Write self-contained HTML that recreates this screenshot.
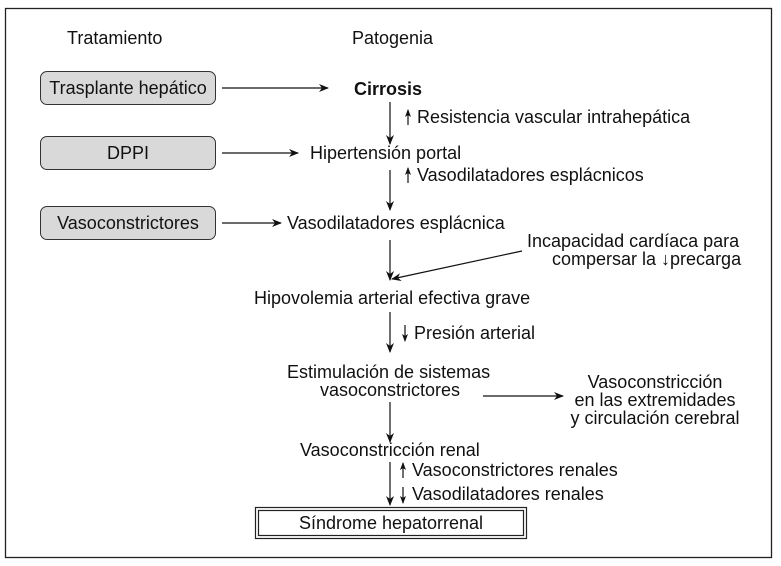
<!DOCTYPE html>
<html><head><meta charset="utf-8"><style>
body{margin:0;width:781px;height:566px;background:#fff;position:relative;overflow:hidden;font-family:"Liberation Sans",Arial,sans-serif;color:#111}
.t{position:absolute;font-size:18px;line-height:18px;white-space:nowrap}
.b{position:absolute;left:40px;width:174px;height:32px;border:1.3px solid #333;border-radius:7px;background:#d9d9d9;font-size:18px;line-height:32px;text-align:center}
svg{position:absolute;left:0;top:0}
</style></head><body>
<svg width="781" height="566">
<defs><marker id="a" markerWidth="10" markerHeight="8" refX="9" refY="4" orient="auto" markerUnits="userSpaceOnUse"><path d="M0,0 L10,4 L0,8 L3,4z" fill="#111"/></marker>
<marker id="s" markerWidth="8" markerHeight="6" refX="7" refY="3" orient="auto" markerUnits="userSpaceOnUse"><path d="M0,0 L8,3 L0,6 L2,3z" fill="#111"/></marker></defs>
<rect x="5.5" y="8.5" width="766" height="549" fill="none" stroke="#222" stroke-width="1.3"/>
<g stroke="#111" stroke-width="1.2" fill="none" marker-end="url(#a)">
<line x1="222" y1="88" x2="328" y2="88"/>
<line x1="222" y1="153" x2="298" y2="153"/>
<line x1="222" y1="223" x2="281" y2="223"/>
<line x1="390" y1="102" x2="390" y2="144"/>
<line x1="390" y1="170" x2="390" y2="210"/>
<line x1="390" y1="240" x2="390" y2="280"/>
<line x1="522" y1="251" x2="392" y2="279"/>
<line x1="390" y1="312" x2="390" y2="352"/>
<line x1="390" y1="402" x2="390" y2="442"/>
<line x1="483" y1="396" x2="563" y2="396"/>
<line x1="390" y1="462" x2="390" y2="505"/>
</g>
<g stroke="#111" stroke-width="1.2" fill="none" marker-end="url(#s)">
<line x1="408" y1="125" x2="408" y2="110"/>
<line x1="408" y1="183" x2="408" y2="168"/>
<line x1="405" y1="325" x2="405" y2="341"/>
<line x1="403" y1="478" x2="403" y2="463"/>
<line x1="403" y1="487" x2="403" y2="503"/>
</g>
<rect x="255.5" y="507.5" width="271" height="31" fill="none" stroke="#222" stroke-width="1.2"/>
<rect x="258.5" y="510.5" width="265" height="25" fill="none" stroke="#222" stroke-width="1.2"/>
</svg>
<div class="t" style="left:67px;top:29px">Tratamiento</div>
<div class="t" style="left:352px;top:29px">Patogenia</div>
<div class="b" style="top:71px">Trasplante hepático</div>
<div class="b" style="top:136px">DPPI</div>
<div class="b" style="top:206px">Vasoconstrictores</div>
<div class="t" style="left:354px;top:80px;font-weight:bold">Cirrosis</div>
<div class="t" style="left:417px;top:108px">Resistencia vascular intrahepática</div>
<div class="t" style="left:310px;top:144px">Hipertensión portal</div>
<div class="t" style="left:417px;top:166px">Vasodilatadores esplácnicos</div>
<div class="t" style="left:287px;top:214px">Vasodilatadores esplácnica</div>
<div class="t" style="left:527px;top:232px">Incapacidad cardíaca para</div>
<div class="t" style="left:552px;top:250px">compersar la ↓precarga</div>
<div class="t" style="left:254px;top:289px">Hipovolemia arterial efectiva grave</div>
<div class="t" style="left:414px;top:324px">Presión arterial</div>
<div class="t" style="left:287px;top:363px">Estimulación de sistemas</div>
<div class="t" style="left:320px;top:381px">vasoconstrictores</div>
<div class="t" style="left:560px;top:373px;width:190px;text-align:center">Vasoconstricción<br>en las extremidades<br>y circulación cerebral</div>
<div class="t" style="left:300px;top:441px">Vasoconstricción renal</div>
<div class="t" style="left:412px;top:461px">Vasoconstrictores renales</div>
<div class="t" style="left:412px;top:485px">Vasodilatadores renales</div>
<div class="t" style="left:255px;top:514px;width:272px;text-align:center">Síndrome hepatorrenal</div>
</body></html>
